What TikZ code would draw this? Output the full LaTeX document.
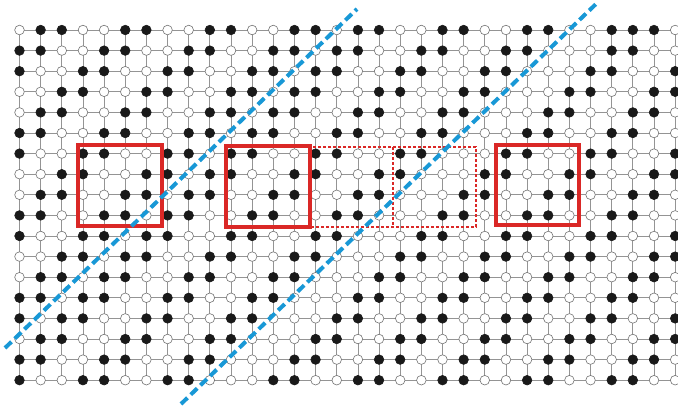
\documentclass[tikz,border=0pt]{standalone}
\usepackage{tikz}
\usetikzlibrary{backgrounds}

\definecolor{boxred}{RGB}{218,40,38}
\definecolor{wallblue}{RGB}{24,152,214}

\begin{document}
\begin{tikzpicture}[
    x=1pt, y=-1pt,
    dot/.style={
        circle,
        draw=#1,
        inner sep=0pt,
        minimum size=9.6pt,
        line width=0.6pt
    },
    bdot/.style={dot=black!90, fill=black!90},
    wdot/.style={dot=black!55, fill=white},
    gridline/.style={draw=black!42, line width=0.8pt},
    cellbox/.style={draw=boxred, line width=3.6pt},
    trialbox/.style={draw=boxred, line width=1.4pt, dash pattern=on 3pt off 2pt},
    wall/.style={draw=wallblue, line width=4pt, dash pattern=on 9pt off 4.5pt}
]
\useasboundingbox (0,0) rectangle (678,405);

% --- dot lattice: stripes along the diagonal, with two phase slips ---
\foreach \r in {0,...,17} {
    \foreach \c in {0,...,31} {
        \pgfmathtruncatemacro{\s}{\r+\c}
        \pgfmathtruncatemacro{\ph}{(\s>15 && \s<27) ? mod(\s+1,4) : mod(\s,4)}
        \pgfmathtruncatemacro{\isb}{(\ph==1 || \ph==2) ? 1 : 0}
        \ifnum\r=0 \ifnum\c=28 \def\isb{1}\fi\fi
        \ifnum\isb=1
            \node[bdot] (d-\r-\c) at ({19.5+21.15*\c}, {30+20.6*\r}) {};
        \else
            \node[wdot] (d-\r-\c) at ({19.5+21.15*\c}, {30+20.6*\r}) {};
        \fi
    }
}

% --- grid lines behind the dots ---
\begin{scope}[on background layer]
    \foreach \r in {0,...,17}
        \draw[gridline] ([xshift=-4pt]d-\r-0.center) -- ([xshift=6pt]d-\r-31.center);
    \foreach \c in {0,...,31}
        \draw[gridline] (d-0-\c.center) -- (d-17-\c.center);
\end{scope}

% --- red cells ---
\draw[cellbox] (78,145) rectangle (162,226);
\draw[cellbox] (226,146) rectangle (310,227);
\draw[cellbox] (496,145) rectangle (579,225);

\draw[trialbox] (311,147) rectangle (476,227);
\draw[trialbox] (393,147) -- (393,227);

% --- domain walls ---
\coordinate (wallA-lo) at (5,348);
\coordinate (wallA-hi) at (357,9);
\coordinate (wallB-lo) at (181,404);
\coordinate (wallB-hi) at (597,3);

\draw[wall] (wallA-lo) -- (wallA-hi);
\draw[wall] (wallB-lo) -- (wallB-hi);

\end{tikzpicture}
\end{document}
